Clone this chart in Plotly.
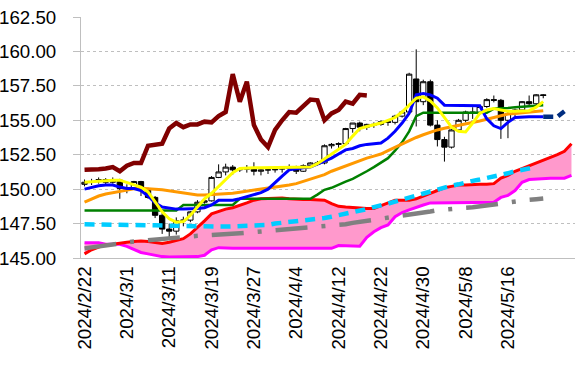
import plotly.graph_objects as go

# ---------------- data (category index 0 = 2024/2/22, weekdays) ----------------
tick_pos = [0, 6, 12, 18, 24, 30, 36, 42, 48, 54, 60]
tick_labels = ["2024/2/22", "2024/3/1", "2024/3/11", "2024/3/19", "2024/3/27", "2024/4/4",
               "2024/4/12", "2024/4/22", "2024/4/30", "2024/5/8", "2024/5/16"]

open_ = [150.35, 150.50, 150.55, 150.70, 150.50, 150.65, 150.05, 150.10, 150.55, 150.00,
         149.40, 148.10, 147.10, 146.95, 147.70, 147.75, 148.35, 149.05, 149.15, 150.85,
         151.25, 151.60, 151.40, 151.45, 151.55, 151.30, 151.40, 151.40, 151.45, 151.50,
         151.60, 151.30, 151.70, 151.80, 151.90, 153.15, 153.25, 153.30, 154.40, 154.80,
         154.50, 154.65, 154.70, 154.90, 154.85, 155.30, 155.60, 158.00, 156.35, 157.80,
         154.65, 153.60, 153.05, 154.30, 155.00, 155.60, 155.55, 156.00, 156.50, 156.45,
         155.00, 155.50, 155.75, 156.35, 156.20, 156.85]
high = [150.70, 150.75, 150.85, 150.80, 150.85, 150.75, 150.35, 150.60, 150.60, 150.10,
        149.50, 148.30, 147.50, 147.95, 148.00, 148.40, 149.20, 149.30, 150.95, 151.80,
        151.85, 151.75, 151.55, 151.75, 151.95, 151.45, 151.55, 151.65, 151.65, 151.80,
        151.70, 151.80, 151.95, 152.05, 153.25, 153.35, 153.40, 154.45, 154.80, 154.90,
        154.75, 154.85, 155.00, 155.05, 155.40, 155.70, 158.45, 160.15, 157.95, 157.95,
        155.00, 153.80, 154.35, 155.10, 155.70, 155.95, 156.10, 156.60, 156.80, 156.55,
        155.60, 155.85, 156.40, 156.80, 156.90, 156.90]
low = [150.20, 150.30, 150.40, 150.35, 150.40, 149.30, 149.70, 150.00, 149.50, 149.30,
       147.90, 146.75, 146.50, 146.70, 147.30, 147.60, 148.25, 148.95, 149.10, 150.80,
       151.00, 151.05, 151.25, 151.20, 151.00, 151.00, 151.10, 151.20, 151.20, 151.40,
       151.10, 151.25, 151.60, 151.70, 151.80, 152.95, 152.90, 153.20, 154.10, 154.20,
       154.30, 154.45, 154.60, 154.60, 154.70, 155.20, 155.40, 154.55, 156.10, 154.55,
       153.10, 152.00, 152.95, 154.20, 154.85, 155.10, 155.40, 155.90, 156.30, 153.65,
       153.70, 155.30, 155.60, 156.05, 156.10, 156.60]
close = [150.50, 150.55, 150.70, 150.50, 150.65, 150.05, 150.10, 150.55, 150.00, 149.40,
         148.10, 147.10, 146.95, 147.70, 147.75, 148.35, 149.05, 149.15, 150.85, 151.25,
         151.60, 151.40, 151.45, 151.55, 151.30, 151.40, 151.40, 151.45, 151.50, 151.60,
         151.30, 151.70, 151.90, 151.90, 153.15, 153.25, 153.30, 154.40, 154.80, 154.50,
         154.70, 154.70, 154.90, 154.85, 155.30, 155.60, 158.35, 156.35, 157.80, 154.65,
         153.60, 153.05, 154.30, 155.00, 155.60, 155.55, 156.00, 156.50, 156.45, 155.00,
         155.50, 155.75, 156.35, 156.20, 156.85, 156.80]

# conversion line (blue)
tenkan = [150.00, 150.15, 150.25, 150.30, 150.30, 150.15, 150.05, 150.05, 149.90, 149.50,
          149.00, 148.70, 148.60, 148.55, 148.55, 148.55, 148.60, 148.65, 148.85, 149.20,
          149.20, 149.20, 149.30, 149.45, 149.55, 149.75, 150.00, 150.50, 150.95, 151.40,
          151.50, 151.55, 151.60, 151.80, 152.00, 152.25, 152.55, 152.85, 152.95, 153.15,
          153.25, 153.30, 153.35, 153.70, 154.20, 154.80, 155.50, 156.85, 156.95, 156.85,
          156.60, 156.10, 156.10, 156.10, 156.10, 156.10, 156.05, 155.10, 154.60, 154.40,
          154.85, 155.20, 155.25, 155.25, 155.25, 155.25]
# base line (green)
kijun = [148.45, 148.45, 148.45, 148.45, 148.45, 148.45, 148.45, 148.45, 148.45, 148.45,
         148.45, 148.45, 148.45, 148.45, 148.85, 148.85, 148.85, 148.85, 148.85, 148.85,
         148.85, 148.85, 149.30, 149.30, 149.30, 149.30, 149.30, 149.30, 149.30, 149.30,
         149.30, 149.30, 149.30, 149.60, 149.95, 150.10, 150.35, 150.55, 150.75, 151.00,
         151.30, 151.60, 151.90, 152.25, 152.80, 153.40, 154.20, 155.30, 155.55, 155.55,
         155.55, 155.55, 155.55, 155.55, 155.55, 155.55, 155.55, 155.55, 155.85, 155.85,
         155.90, 155.95, 156.00, 156.05, 156.05, 156.10]
# 5-day average (yellow)
ma_short = [150.50, 150.55, 150.60, 150.60, 150.65, 150.65, 150.50, 150.35, 150.15, 149.80,
            149.10, 148.35, 147.85, 147.60, 147.65, 148.10, 148.70, 149.30, 149.70, 150.20,
            150.70, 151.20, 151.50, 151.55, 151.55, 151.55, 151.55, 151.55, 151.55, 151.55,
            151.55, 151.55, 151.60, 151.85, 152.20, 152.55, 152.90, 153.25, 153.85, 154.40,
            154.55, 154.65, 154.80, 155.00, 155.20, 155.60, 156.10, 156.60, 156.70, 156.40,
            155.90, 155.20, 154.50, 154.20, 154.15, 154.80, 155.50, 155.75, 155.85, 155.75,
            155.65, 155.65, 155.65, 155.70, 155.95, 156.35]
# 25-day average (orange)
ma_mid = [149.05, 149.30, 149.50, 149.65, 149.75, 149.85, 149.95, 150.02, 150.07, 150.05,
          150.00, 149.95, 149.88, 149.78, 149.70, 149.63, 149.58, 149.57, 149.60, 149.65,
          149.68, 149.70, 149.78, 149.85, 149.93, 150.00, 150.08, 150.15, 150.22, 150.30,
          150.40, 150.55, 150.70, 150.88, 151.05, 151.30, 151.50, 151.70, 151.90, 152.10,
          152.25, 152.40, 152.55, 152.80, 153.05, 153.30, 153.55, 153.75, 153.95, 154.15,
          154.30, 154.42, 154.52, 154.62, 154.70, 154.80, 154.95, 155.08, 155.20, 155.35,
          155.45, 155.50, 155.55, 155.60, 155.65, 155.70]
# 75-day average (cyan dashed)
ma_long = [147.45, 147.45, 147.44, 147.44, 147.43, 147.42, 147.41, 147.40, 147.39, 147.38,
           147.37, 147.36, 147.34, 147.33, 147.32, 147.30, 147.28, 147.28, 147.28, 147.28,
           147.28, 147.29, 147.30, 147.31, 147.33, 147.35, 147.40, 147.50, 147.55, 147.60,
           147.65, 147.70, 147.75, 147.82, 147.90, 148.00, 148.10, 148.20, 148.30, 148.45,
           148.55, 148.70, 148.80, 148.95, 149.10, 149.25, 149.40, 149.55, 149.70, 149.85,
           149.95, 150.10, 150.25, 150.35, 150.50, 150.60, 150.70, 150.80, 150.90, 151.00,
           151.15, 151.30, 151.40, 151.50, 151.60]
# 200-day average (gray dash-dot)
ma_vlong = [145.70, 145.78, 145.85, 145.95, 146.03, 146.10, 146.15, 146.20, 146.25, 146.30,
            146.37, 146.43, 146.48, 146.52, 146.55, 146.58, 146.61, 146.64, 146.66, 146.70,
            146.76, 146.78, 146.80, 146.84, 146.88, 146.93, 146.97, 147.00, 147.05, 147.10,
            147.15, 147.20, 147.25, 147.26, 147.27, 147.30, 147.35, 147.45, 147.55, 147.62,
            147.70, 147.75, 147.85, 147.92, 148.00, 148.07, 148.15, 148.22, 148.30, 148.38,
            148.47, 148.53, 148.57, 148.62, 148.65, 148.68, 148.75, 148.85, 148.95, 149.00,
            149.07, 149.13, 149.18, 149.23, 149.27, 149.32]
# leading span A (red) and B (magenta), categories 0..69
span_a = [145.30, 145.60, 145.80, 145.95, 146.00, 146.10, 146.15, 146.20, 146.23, 146.20,
          146.15, 146.05, 146.15, 146.28, 146.40, 146.75, 147.20, 147.70, 148.20, 148.40,
          148.55, 148.65, 148.80, 149.00, 149.20, 149.30, 149.32, 149.35, 149.36, 149.30,
          149.25, 149.25, 149.25, 149.25, 149.20, 148.95, 148.75, 148.70, 148.65, 148.60,
          148.60, 148.60, 148.80, 149.05, 149.20, 149.20, 149.20, 149.30, 149.50, 149.70,
          149.95, 150.10, 150.20, 150.30, 150.30, 150.35, 150.35, 150.35, 150.40, 150.80,
          151.00, 151.30, 151.50, 151.70, 151.85, 152.05, 152.30, 152.50, 152.75, 153.30]
span_b = [146.10, 146.10, 146.10, 146.00, 146.00, 146.00, 145.85, 145.65, 145.40, 145.30,
          145.20, 145.10, 145.07, 145.07, 145.05, 145.05, 145.10, 145.20, 145.60, 145.75,
          145.70, 145.70, 145.70, 145.70, 145.70, 145.70, 145.70, 145.70, 145.70, 145.70,
          145.70, 145.70, 145.70, 145.70, 145.70, 145.70, 145.90, 145.90, 145.90, 145.85,
          146.50, 146.90, 147.20, 147.40, 148.00, 148.30, 148.50, 148.70, 148.85, 149.00,
          149.00, 149.00, 149.00, 149.00, 149.00, 149.00, 149.00, 149.00, 149.05, 149.40,
          149.55, 149.90, 150.50, 150.70, 150.75, 150.75, 150.80, 150.80, 150.80, 151.00]
# lagging span (dark red), categories 0..40
chikou = [151.40, 151.40, 151.45, 151.50, 151.60, 151.30, 151.70, 151.90, 151.90, 153.15,
          153.25, 153.30, 154.40, 154.80, 154.50, 154.70, 154.70, 154.90, 154.85, 155.30,
          155.60, 158.35, 156.35, 157.80, 154.65, 153.60, 153.05, 154.30, 155.00, 155.60,
          155.55, 156.00, 156.50, 156.45, 155.00, 155.50, 155.75, 156.35, 156.20, 156.85,
          156.80]
# projected conversion line (navy dashed), categories 65..68
proj_start = 65
proj = [155.25, 155.25, 155.25, 155.65]

# ---------------- figure ----------------
idx = lambda arr, start=0: list(range(start, start + len(arr)))

fig = go.Figure()
fig.add_trace(go.Candlestick(
    x=idx(close), open=open_, high=high, low=low, close=close,
    increasing=dict(fillcolor="white", line=dict(color="black", width=1)),
    decreasing=dict(fillcolor="black", line=dict(color="black", width=1)),
    whiskerwidth=0, showlegend=False, hoverinfo="skip"))

fig.add_trace(go.Scatter(x=idx(span_b), y=span_b, mode="lines",
                         line=dict(color="#FF00FF", width=3), showlegend=False))
fig.add_trace(go.Scatter(x=idx(span_a), y=span_a, mode="lines", fill="tonexty",
                         fillcolor="#FF99CC",
                         line=dict(color="#FF0000", width=3), showlegend=False))
fig.add_trace(go.Scatter(x=idx(ma_vlong), y=ma_vlong, mode="lines",
                         line=dict(color="#808080", width=4.5, dash="32px,14px,4px,14px"),
                         showlegend=False))
fig.add_trace(go.Scatter(x=idx(ma_long), y=ma_long, mode="lines",
                         line=dict(color="#00CCFF", width=4.5, dash="10px,7px"),
                         showlegend=False))
fig.add_trace(go.Scatter(x=idx(kijun), y=kijun, mode="lines",
                         line=dict(color="#008000", width=2.5), showlegend=False))
fig.add_trace(go.Scatter(x=idx(ma_mid), y=ma_mid, mode="lines",
                         line=dict(color="#FF9900", width=3), showlegend=False))
fig.add_trace(go.Scatter(x=idx(tenkan), y=tenkan, mode="lines",
                         line=dict(color="#0000FF", width=3), showlegend=False))
fig.add_trace(go.Scatter(x=idx(ma_short), y=ma_short, mode="lines",
                         line=dict(color="#FFFF00", width=3), showlegend=False))
fig.add_trace(go.Scatter(x=idx(proj, proj_start), y=proj, mode="lines",
                         line=dict(color="#002D80", width=4.5, dash="10px,5px"),
                         showlegend=False))
fig.add_trace(go.Scatter(x=idx(chikou), y=chikou, mode="lines",
                         line=dict(color="#800000", width=4.5), showlegend=False))

font = dict(family="Liberation Sans, Arial, sans-serif", size=18.7, color="black")
fig.update_layout(
    width=583, height=373,
    margin=dict(l=81, r=8, t=17, b=115),
    paper_bgcolor="white", plot_bgcolor="white",
    font=font, showlegend=False, boxgap=0.25, boxgroupgap=0,
    xaxis=dict(range=[-0.5, 69.5], tickmode="array", tickvals=tick_pos, ticktext=tick_labels,
               tickangle=-90, showgrid=False, zeroline=False, showline=True,
               linecolor="#BFBFBF", linewidth=1, ticks="", rangeslider=dict(visible=False),
               tickfont=font, fixedrange=True, automargin=False),
    yaxis=dict(range=[145, 162.5], tick0=145, dtick=2.5, tickformat=".2f",
               showgrid=True, gridcolor="#BFBFBF", griddash="dot", gridwidth=1,
               zeroline=False, showline=True, linecolor="#BFBFBF", linewidth=1,
               ticks="outside", ticklen=7, tickcolor="#BFBFBF", ticklabelstandoff=13,
               tickfont=font, fixedrange=True, automargin=False),
)
fig.write_html("out.html", config={"displayModeBar": False},
               post_script="document.body.style.margin='0';document.body.style.overflow='hidden';")
